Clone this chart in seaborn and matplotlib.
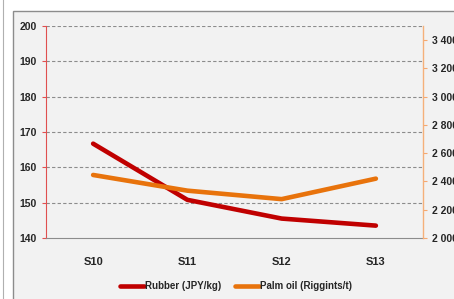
import pandas as pd
import numpy as np
import matplotlib.pyplot as plt
import seaborn as sns
from matplotlib.patches import Rectangle
from matplotlib.ticker import FuncFormatter

# data
seasons = ['S10', 'S11', 'S12', 'S13']
rubber = [166.7, 150.8, 145.5, 143.5]       # JPY/kg, left axis
palm_oil = [2446, 2335, 2275, 2420]         # Riggints/t, right axis

sns.set_theme(style="white")
plt.rcParams['font.family'] = ['Liberation Sans', 'DejaVu Sans']

red = '#c00000'
orange = '#e8730c'
labelFontSize = 7.5

df = pd.DataFrame({'season': seasons, 'pos': range(len(seasons)),
                   'rubber': rubber, 'palm': palm_oil})

f = plt.figure(figsize=(4.54, 2.99), dpi=100, facecolor='white')

# grey panel behind the chart
f.patches.append(Rectangle((13 / 454, -0.05), 1.1, 1 - 11 / 299 + 0.05, transform=f.transFigure,
                           facecolor='#f2f2f2', edgecolor='#8c8c8c', linewidth=1, zorder=-2))
f.patches.append(Rectangle((3 / 454, -0.05), 0.001, 1.1, transform=f.transFigure,
                           facecolor='#b0b0b0', edgecolor='#b0b0b0', linewidth=0.8, zorder=-2))

ax = f.add_axes([46 / 454, 1 - 238 / 299, 377 / 454, 212 / 299])
ax.set_facecolor('none')
ax2 = ax.twinx()

sns.lineplot(x='pos', y='rubber', data=df, ax=ax, color=red, linewidth=3.3, label='Rubber (JPY/kg)',
             legend=False, solid_capstyle='round', zorder=3)
sns.lineplot(x='pos', y='palm', data=df, ax=ax2, color=orange, linewidth=3.3, label='Palm oil (Riggints/t)',
             legend=False, solid_capstyle='round', zorder=3)

# left axis
ax.set(xlim=[-0.5, 3.5], ylim=[140, 200])
ax.set_yticks(np.arange(140, 201, 10))
ax.set_xticks(range(4))
ax.set_xticklabels(seasons, fontsize=8, fontweight='bold')
ax.set_xticks(np.arange(-0.5, 3.6, 1), minor=True)
ax.tick_params(axis='x', which='major', length=0, pad=14)
ax.tick_params(axis='x', which='minor', length=4, color='#8c8c8c', width=0.8, direction='out')
ax.tick_params(axis='y', labelsize=labelFontSize, length=3, color='#e05050', width=0.8,
               direction='out', left=True)
for lab in ax.get_yticklabels():
    lab.set_fontweight('bold')
ax.set_xlabel('')
ax.set_ylabel('')
for y in range(150, 201, 10):
    ax.axhline(y, color='#8c8c8c', linestyle=(0, (3, 2)), linewidth=0.8, zorder=1)

# right axis
ax2.set(ylim=[2000, 3500])
ax2.set_yticks(np.arange(2000, 3401, 200))
ax2.yaxis.set_major_formatter(FuncFormatter(lambda v, p: '{:,}'.format(int(v)).replace(',', ' ')))
ax2.tick_params(axis='y', labelsize=labelFontSize, length=3, color='#f5a870', width=0.8,
                direction='out', right=True)
for lab in ax2.get_yticklabels():
    lab.set_fontweight('bold')
ax2.set_ylabel('')

for a in (ax, ax2):
    for s in ('top', 'left', 'right', 'bottom'):
        a.spines[s].set_visible(False)
ax.spines['left'].set_visible(True)
ax.spines['left'].set_color('#e05050')
ax.spines['left'].set_linewidth(0.8)
ax.spines['bottom'].set_visible(True)
ax.spines['bottom'].set_color('#8c8c8c')
ax.spines['bottom'].set_linewidth(0.8)
ax2.spines['right'].set_visible(True)
ax2.spines['right'].set_color('#f5b07a')
ax2.spines['right'].set_linewidth(1)

# legend below
h1, l1 = ax.get_legend_handles_labels()
h2, l2 = ax2.get_legend_handles_labels()
f.legend(h1 + h2, l1 + l2, loc='center', bbox_to_anchor=(0.52, 1 - 286 / 299), ncol=2, frameon=False,
         prop={'size': 7, 'weight': 'bold'}, handlelength=2.4, handletextpad=0.1, columnspacing=1.5)

plt.savefig('out.png', dpi=100)
